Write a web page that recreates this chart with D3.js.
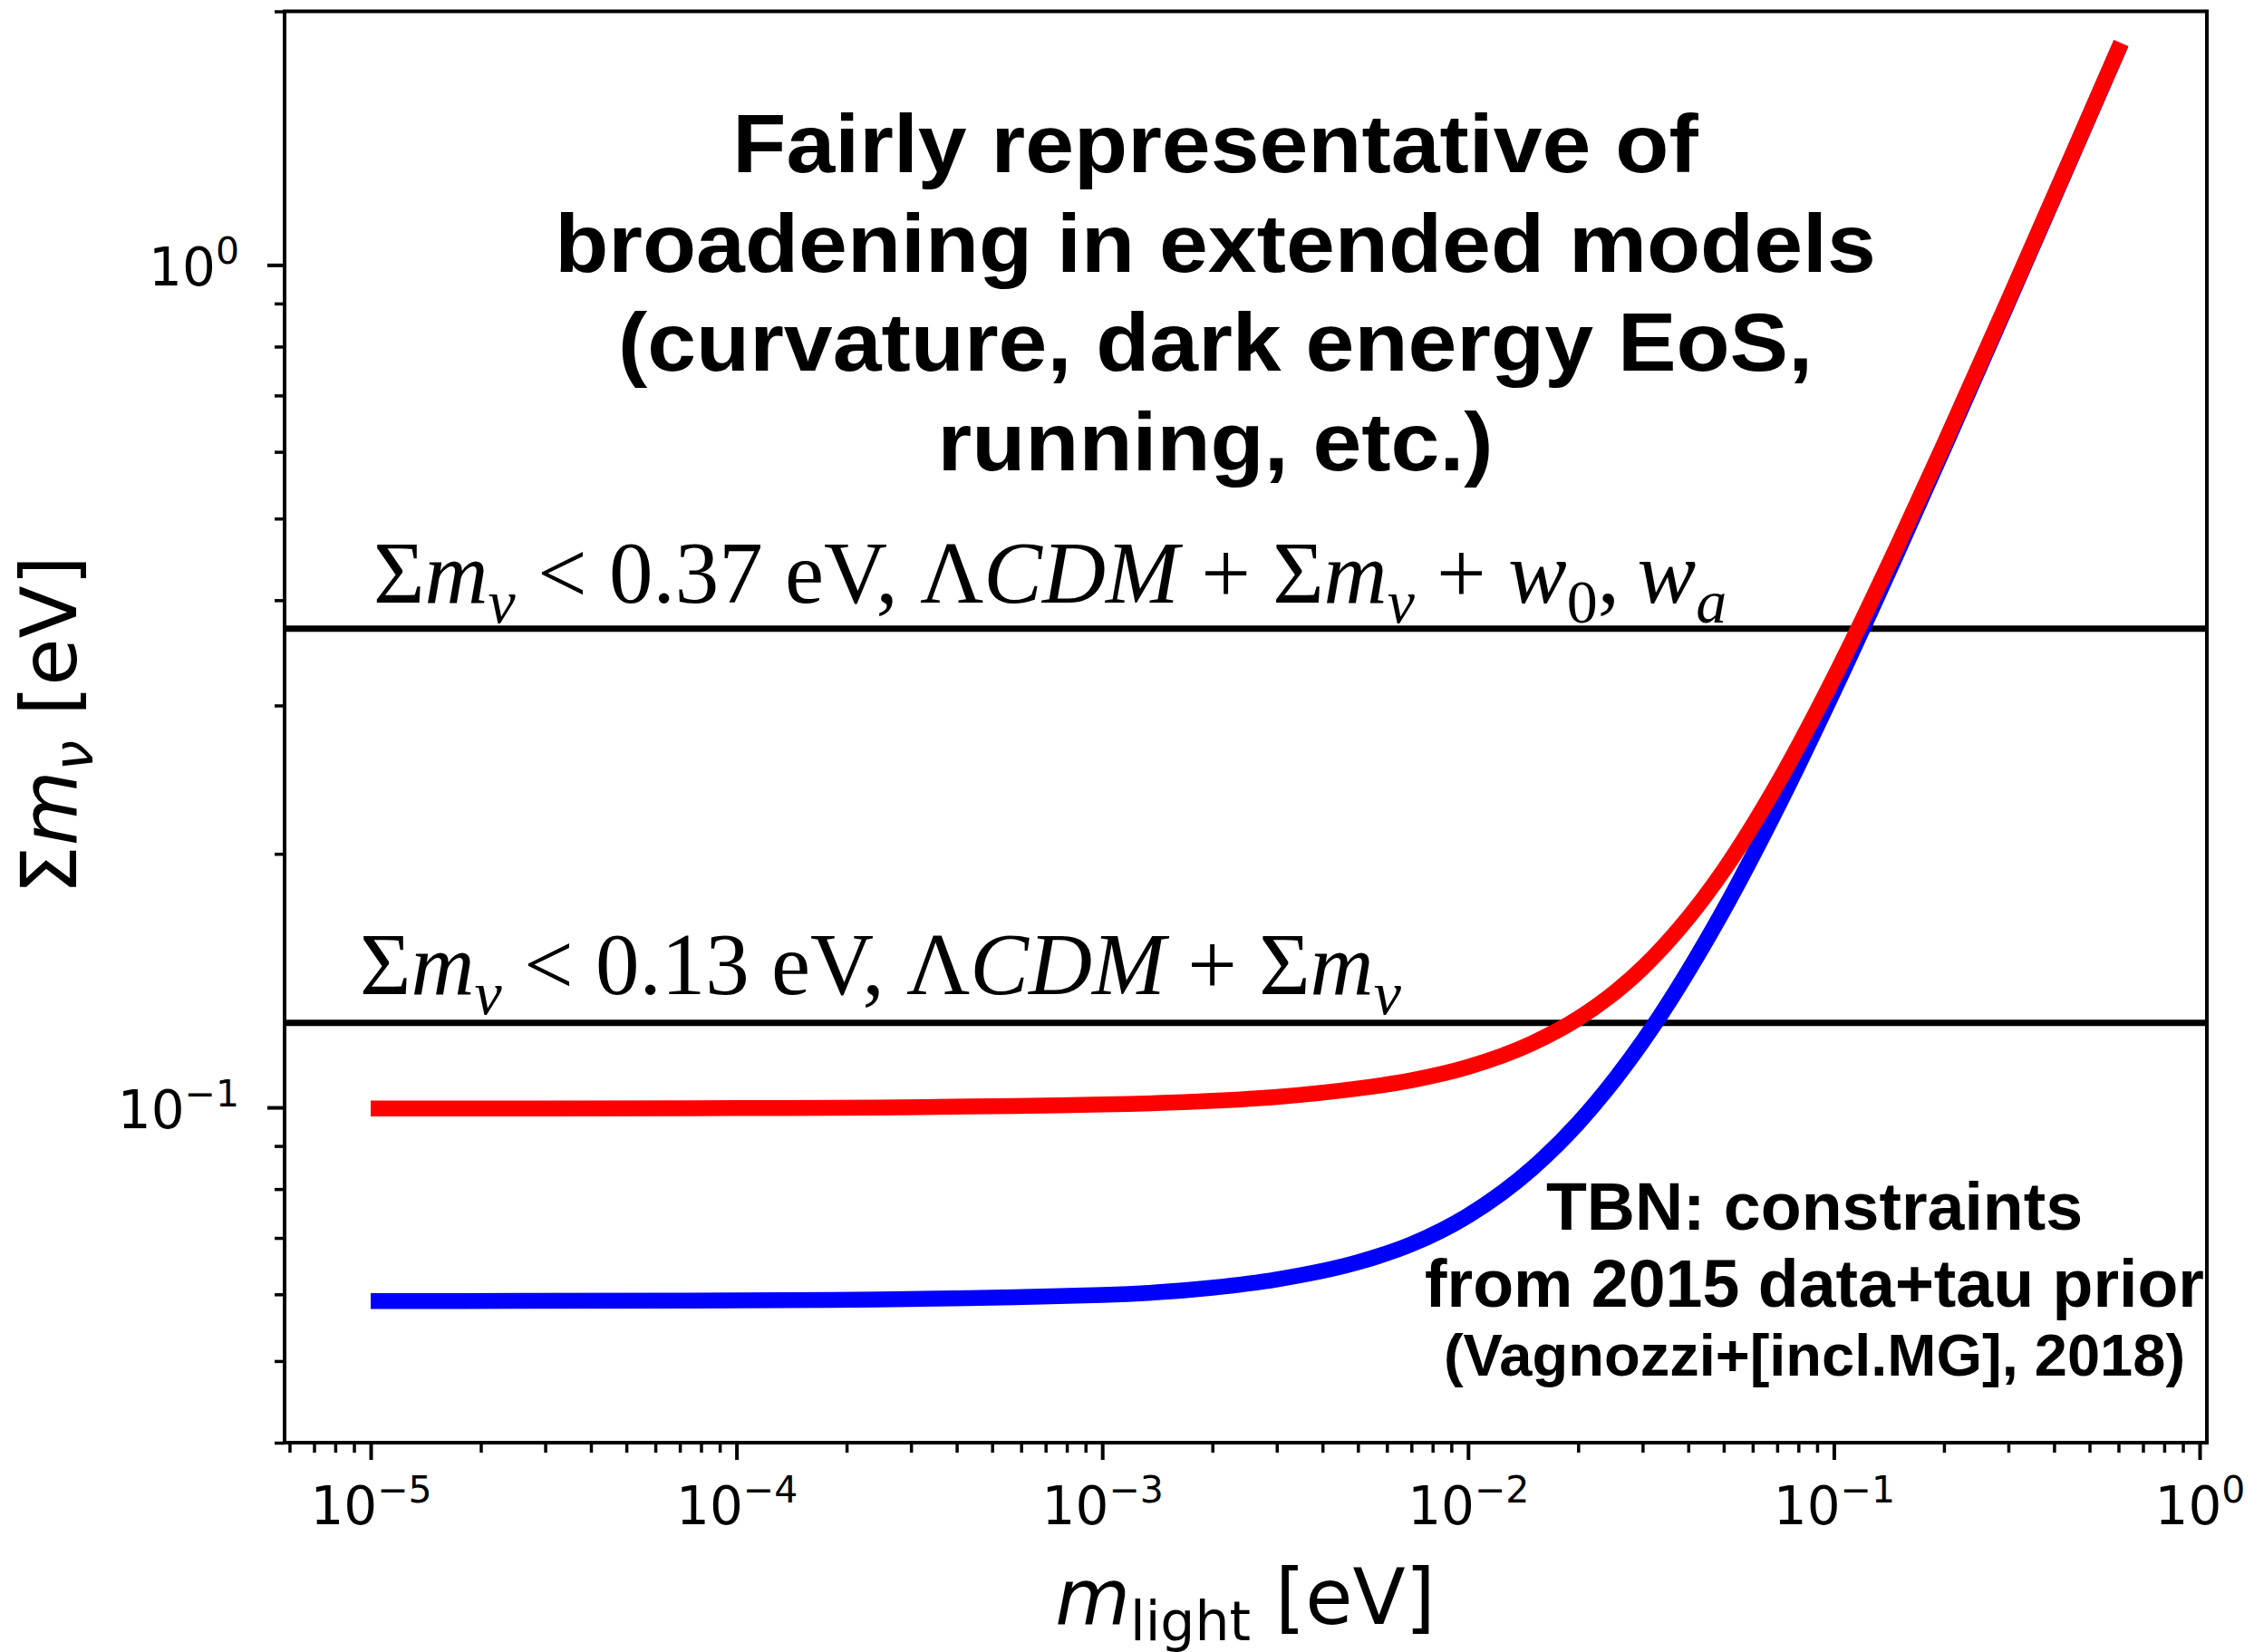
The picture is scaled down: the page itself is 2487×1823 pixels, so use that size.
<!DOCTYPE html>
<meta charset="utf-8">
<script src="https://cdn.jsdelivr.net/npm/d3@7"></script>
<style>
  body { margin: 0; background: #fff; }
</style>
<body>
<div id="my_dataviz"></div>
<script>

// values
var mLight = [1e-5, 1e-4, 1e-3, 2e-3, 3e-3, 5e-3, 7e-3, 0.01, 0.015, 0.02, 0.03, 0.05, 0.07, 0.1, 0.15, 0.2, 0.3, 0.45, 0.61];
var sumInverted = [0.0997, 0.0998, 0.1008, 0.1018, 0.1029, 0.1053, 0.1077, 0.1117, 0.1192, 0.1275, 0.1464, 0.1912, 0.2419, 0.3235, 0.4662, 0.6122, 0.9083, 1.3555, 1.834];
var sumNormal = [0.0589, 0.0590, 0.0599, 0.0611, 0.0625, 0.0655, 0.0688, 0.0744, 0.0847, 0.0958, 0.1197, 0.1716, 0.2267, 0.3123, 0.4584, 0.6064, 0.9043, 1.3529, 1.8321];
var boundValues = [0.37, 0.126];
var xTickExps = [-5, -4, -3, -2, -1, 0];
var yTickExps = [-1, 0];
var titleLines = ["Fairly representative of", "broadening in extended models", "(curvature, dark energy EoS,", "running, etc.)"];
var noteLines = ["TBN: constraints", "from 2015 data+tau prior", "(Vagnozzi+[incl.MG], 2018)"];

// set the dimensions and margins of the graph
var margin = {top: 12.5, right: 52, bottom: 231, left: 314},
  width = 2487 - margin.left - margin.right,
  height = 1823 - margin.top - margin.bottom;

var svg = d3.select("#my_dataviz")
  .append("svg")
    .attr("width", 2487)
    .attr("height", 1823)
  .append("g")
    .attr("transform", "translate(" + margin.left + "," + margin.top + ")");

// log scales (x has matplotlib's 5% margins, y set by hand to 0.04..2)
var x = d3.scaleLog()
  .domain([Math.pow(10, -5.2354), Math.pow(10, 0.0198)])
  .range([0, width]);
var y = d3.scaleLog()
  .domain([0.04, 2])
  .range([height, 0]);

// minor ticks: 2..9 of each decade inside the domain
function minorTicks(scale) {
  var d = scale.domain(), out = [];
  for (var e = Math.floor(Math.log10(d[0])); e <= Math.ceil(Math.log10(d[1])); e++) {
    for (var k = 2; k <= 9; k++) {
      var v = k * Math.pow(10, e);
      if (v >= d[0] && v <= d[1]) out.push(v);
    }
  }
  return out;
}

var tickFont = "DejaVu Sans";

// x axis
svg.append("g")
  .attr("transform", "translate(0," + height + ")")
  .call(d3.axisBottom(x).tickValues(minorTicks(x)).tickSize(11).tickFormat(""))
  .call(g => g.select(".domain").remove())
  .call(g => g.selectAll(".tick line").attr("stroke-width", 3.5));

svg.append("g")
  .attr("transform", "translate(0," + height + ")")
  .call(d3.axisBottom(x).tickValues(xTickExps.map(e => Math.pow(10, e))).tickSize(19).tickPadding(0))
  .call(g => g.select(".domain").remove())
  .call(g => g.selectAll(".tick line").attr("stroke-width", 4))
  .call(g => g.selectAll(".tick text").each(function(d, i) {
      var t = d3.select(this).text(null)
        .attr("y", 90)
        .attr("dy", null)
        .style("font-family", tickFont)
        .style("font-size", "58px")
        .attr("fill", "#000");
      t.append("tspan").text("10");
      var e = xTickExps[i];
      t.append("tspan").attr("dy", -24).style("font-size", "41px")
        .text(e < 0 ? "\u2212" + (-e) : "" + e);
  }));

// y axis
svg.append("g")
  .call(d3.axisLeft(y).tickValues(minorTicks(y)).tickSize(11).tickFormat(""))
  .call(g => g.select(".domain").remove())
  .call(g => g.selectAll(".tick line").attr("stroke-width", 3.5));

svg.append("g")
  .call(d3.axisLeft(y).tickValues(yTickExps.map(e => Math.pow(10, e))).tickSize(19).tickPadding(0))
  .call(g => g.select(".domain").remove())
  .call(g => g.selectAll(".tick line").attr("stroke-width", 4))
  .call(g => g.selectAll(".tick text").each(function(d, i) {
      var t = d3.select(this).text(null)
        .attr("x", -50)
        .attr("dy", null)
        .attr("y", 22)
        .style("font-family", tickFont)
        .style("font-size", "58px")
        .attr("fill", "#000");
      t.append("tspan").text("10");
      var e = yTickExps[i];
      t.append("tspan").attr("dy", -24).style("font-size", "41px")
        .text(e < 0 ? "\u2212" + (-e) : "" + e);
  }));

// frame
svg.append("rect")
  .attr("width", width)
  .attr("height", height)
  .attr("fill", "none")
  .attr("stroke", "#000")
  .attr("stroke-width", 4);

// helper to write rich text made of segments [text, italic, sub]
function richText(sel, segs, subSize, subDy) {
  var back = 0;
  segs.forEach(function(s) {
    var ts = sel.append("tspan").text(s[0]);
    if (s[1]) ts.style("font-style", "italic");
    if (s[2]) {
      ts.attr("dy", subDy - back).style("font-size", subSize);
      back = subDy;
    } else {
      if (back) ts.attr("dy", -back);
      back = 0;
    }
  });
  return sel;
}

// horizontal bounds
svg.selectAll(".bound")
  .data(boundValues)
  .enter()
  .append("line")
    .attr("x1", 0)
    .attr("x2", width)
    .attr("y1", d => y(d))
    .attr("y2", d => y(d))
    .attr("stroke", "#000")
    .attr("stroke-width", 7);

// annotation on the bounds
var ann1 = svg.append("text")
  .attr("x", 412 - margin.left)
  .attr("y", 665 - margin.top)
  .style("font-family", "Liberation Serif")
  .style("font-size", "97px");
richText(ann1, [["\u03a3"], ["m", 1], ["\u03bd", 1, 1], [" < 0.37 eV, \u039b"], ["CDM", 1], [" + \u03a3"], ["m", 1], ["\u03bd", 1, 1],
  [" + "], ["w", 1], ["0", 0, 1], [",\u2009"], ["w", 1], ["a", 1, 1]], "68px", 22);

var ann2 = svg.append("text")
  .attr("x", 397 - margin.left)
  .attr("y", 1097 - margin.top)
  .style("font-family", "Liberation Serif")
  .style("font-size", "97px");
richText(ann2, [["\u03a3"], ["m", 1], ["\u03bd", 1, 1], [" < 0.13 eV, \u039b"], ["CDM", 1], [" + \u03a3"], ["m", 1], ["\u03bd", 1, 1]], "68px", 22);

// the two curves
var line = d3.line()
  .x(d => x(d[0]))
  .y(d => y(d[1]))
  .curve(d3.curveMonotoneX);

svg.append("path")
  .datum(mLight.map((m, i) => [m, sumNormal[i]]))
  .attr("d", line)
  .attr("fill", "none")
  .attr("stroke", "#0000ff")
  .attr("stroke-width", 17.5);

svg.append("path")
  .datum(mLight.map((m, i) => [m, sumInverted[i]]))
  .attr("d", line)
  .attr("fill", "none")
  .attr("stroke", "#ff0000")
  .attr("stroke-width", 17.5);

// title block (glyphs in the original are a touch wider than Liberation Sans)
svg.append("g").selectAll("text")
  .data(titleLines)
  .enter()
  .append("text")
    .attr("transform", (d, i) => "translate(" + (1341 - margin.left) + "," + (190 - margin.top + i * 109.5) + ") scale(1.064,1)")
    .attr("text-anchor", "middle")
    .style("font-family", "Liberation Sans")
    .style("font-weight", "bold")
    .style("font-size", "91px")
    .text(d => d);

// TBN note
svg.append("g").selectAll("text")
  .data(noteLines)
  .enter()
  .append("text")
    .attr("x", 2002 - margin.left)
    .attr("y", (d, i) => [1357, 1442, 1518][i] - margin.top)
    .attr("text-anchor", "middle")
    .style("font-family", "Liberation Sans")
    .style("font-weight", "bold")
    .style("font-size", (d, i) => i < 2 ? "73.5px" : "65px")
    .text(d => d);

// axis labels
var xl = svg.append("text")
  .attr("x", 1374 - margin.left)
  .attr("y", 1792 - margin.top)
  .attr("text-anchor", "middle")
  .style("font-family", tickFont)
  .style("font-size", "85px");
xl.append("tspan").style("font-style", "italic").text("m");
xl.append("tspan").attr("dy", 18).style("font-size", "60px").text("light");
xl.append("tspan").attr("dy", -18).text(" [eV]");

var yl = svg.append("text")
  .attr("transform", "rotate(-90)")
  .attr("x", -(800 - margin.top))
  .attr("y", 84 - margin.left)
  .attr("text-anchor", "middle")
  .style("font-family", tickFont)
  .style("font-size", "85px");
yl.append("tspan").text("\u03a3");
yl.append("tspan").style("font-style", "italic").text("m");
yl.append("tspan").attr("dy", 18).style("font-size", "60px").style("font-style", "italic").text("\u03bd");
yl.append("tspan").attr("dy", -18).text(" [eV]");

</script>
</body>
